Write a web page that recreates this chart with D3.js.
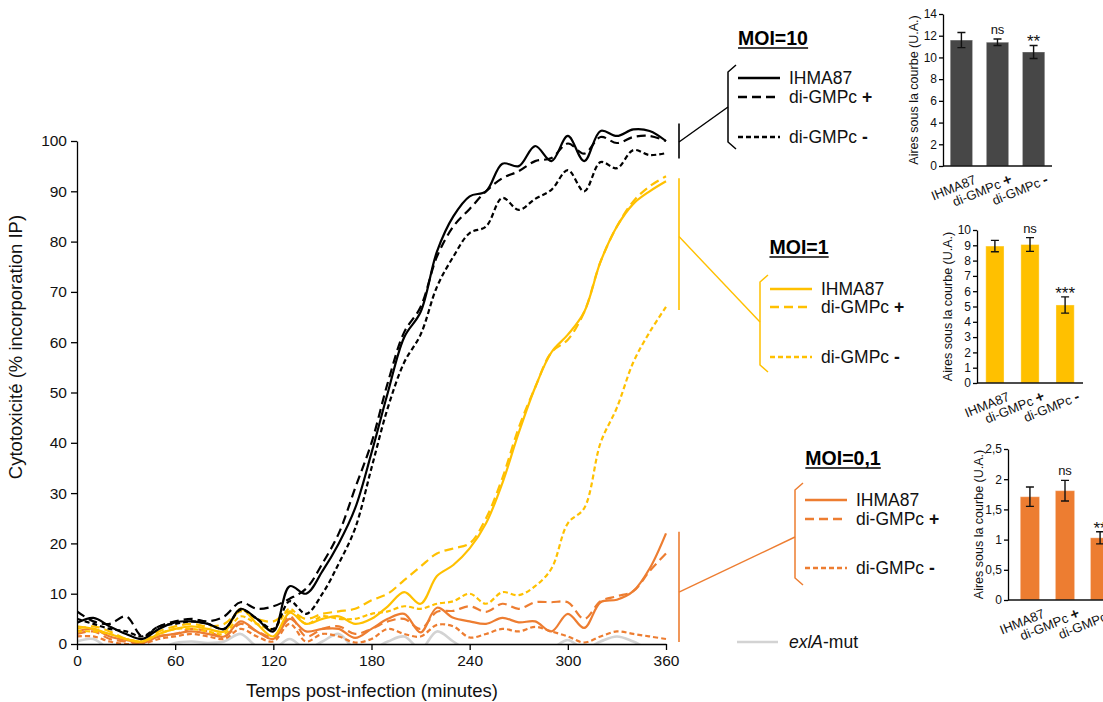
<!DOCTYPE html>
<html><head><meta charset="utf-8">
<script src="https://cdn.jsdelivr.net/npm/d3@7"></script>
<style>
body{margin:0;background:#fff}
svg{display:block;font-family:"Liberation Sans",Arial,sans-serif}
</style>
</head><body>
<svg id="c" width="1103" height="702"></svg>
<script>
// ---------- DATA ----------
const times = [0,10,20,30,40,50,60,70,80,90,100,110,120,130,140,150,160,170,180,190,200,210,220,230,240,250,260,270,280,290,300,310,320,330,340,350,360];

const moi10_wt  = [4.2,5.2,3.5,2.0,1.0,3.0,4.3,4.5,4.0,3.0,7.0,5.0,2.5,11.5,10.0,14.5,20,27,38,50,61,66,78,85,89,90,95.5,95,99,96,101,96,102,101,102.3,102,100];
const moi10_pos = [6.5,4.5,4.0,5.5,1.5,3.5,4.5,5.0,4.5,5.5,8.3,7.0,7.5,9.0,11,16,22,31,40,52,62,67,77,83,86.5,90,92.6,94,96,96.6,99.5,97.5,100.8,99.6,100.8,101,100];
const moi10_neg = [5.0,4.0,3.0,2.5,1.5,3.5,4.0,4.5,4.0,3.0,6.8,5.0,3.0,8.5,6.0,10,16,23,35,47,56,61.5,71,77,81.7,83,88.7,86.3,88.5,90.3,94.2,90,95.8,94.6,98.2,97.2,97.6];

const moi1_wt  = [3.5,3.0,2.0,1.0,0.5,2.0,3.0,3.5,3.0,2.5,7.0,4.0,1.5,6.2,4.0,5.0,5.5,4.0,5.0,7.5,10.3,8.0,13.5,15.7,19,24,32,42,51,58,61.5,66,76,83,87.5,90,92];
const moi1_pos = [3.0,3.5,2.5,1.0,0.5,2.5,3.5,4.0,3.5,4.0,6.5,5.0,4.5,6.5,5.0,6.0,6.5,7.0,8.7,10,12.7,15.4,18,19,20,25,33,43,51,58,60.5,66,76,83,88,91,93];
const moi1_neg = [2.5,2.5,2.0,1.0,0.5,2.0,3.0,3.0,2.5,2.0,5.5,4.0,3.0,7.0,4.0,5.5,5.0,5.0,6.0,6.5,7.5,7.0,8.0,8.5,10.0,8.0,10.3,9.7,11.5,15,24,27,40,47,56,62,67];

const moi01_wt  = [2.5,3.0,1.5,0.8,0.3,1.5,2.0,2.5,2.0,1.5,4.5,2.5,1.0,5.0,2.5,3.0,3.0,1.2,3.0,5.0,6.0,2.3,7.2,5.2,4.5,4.0,5.2,4.3,4.5,2.5,6.0,3.2,8.3,8.8,10.5,15,22];
const moi01_pos = [2.0,2.5,1.0,0.5,0.2,1.5,2.0,3.0,2.5,1.5,4.0,2.5,1.5,5.5,1.5,3.0,3.5,2.0,3.0,4.5,5.0,3.0,6.4,6.6,7.5,6.4,8.0,7.0,8.3,8.3,8.3,5.0,8.5,9.5,10.5,14.5,18];
const moi01_neg = [1.5,1.5,0.5,0.0,0.0,1.0,1.5,2.0,1.5,1.0,3.0,1.5,0.5,4.0,0.5,2.0,1.5,0.3,1.0,3.0,2.0,1.5,3.8,3.5,1.3,2.0,3.0,2.5,3.4,2.5,1.5,0.3,1.5,2.5,2.0,1.5,1.0];

const exla_mut = [0.5,1.0,-1,-1,-1,-1,0.2,0.5,0.2,0.5,2.0,-0.5,-1,1.0,-1,0.5,2.0,-1,-1,0.5,1.5,-1,2.5,0.5,-1.5,-2,-2,-2,-2,-1,0.8,-1,0.5,1.5,0.5,-1,-1];

const xTicks = [0,60,120,180,240,300,360];
const yTicks = [0,10,20,30,40,50,60,70,80,90,100];

const barCats = ["IHMA87","di-GMPc +","di-GMPc -"];
const auc10 = [11.6,11.4,10.5];
const auc10_err = [0.7,0.3,0.6];
const auc10_sig = ["","ns","**"];
const auc1 = [8.95,9.05,5.1];
const auc1_err = [0.37,0.45,0.53];
const auc1_sig = ["","ns","***"];
const auc01 = [1.71,1.81,1.03];
const auc01_err = [0.16,0.17,0.1];
const auc01_sig = ["","ns","**"];
const auc10_ticks = [0,2,4,6,8,10,12,14];
const auc1_ticks = [0,1,2,3,4,5,6,7,8,9,10];
const auc01_ticks = [0,0.5,1,1.5,2,2.5];

// ---------- STYLES ----------
const BLACK="#000", YEL="#FFC000", ORG="#ED7D31", GRAY="#D3D3D3", DARK="#474747";
const DASH_LONG="9,5", DASH_SHORT="5,3";
const FONT='"Liberation Sans",Arial,sans-serif';

const svg = d3.select("#c");
const x = d3.scaleLinear().domain([0,360]).range([77,666]);
const y = d3.scaleLinear().domain([0,100]).range([644,141]);

svg.append("defs").append("clipPath").attr("id","plot")
  .append("rect").attr("x",x(0)).attr("y",110).attr("width",x(360)-x(0)+2).attr("height",y(0)-110);

const series = [
  {v:exla_mut, c:GRAY, d:null, w:2.6},
  {v:moi01_neg, c:ORG, d:DASH_SHORT, w:2.2},
  {v:moi01_pos, c:ORG, d:DASH_LONG, w:2.2},
  {v:moi01_wt, c:ORG, d:null, w:2.2},
  {v:moi1_neg, c:YEL, d:DASH_SHORT, w:2.2},
  {v:moi1_pos, c:YEL, d:DASH_LONG, w:2.2},
  {v:moi1_wt, c:YEL, d:null, w:2.2},
  {v:moi10_neg, c:BLACK, d:DASH_SHORT, w:2.2},
  {v:moi10_pos, c:BLACK, d:DASH_LONG, w:2.2},
  {v:moi10_wt, c:BLACK, d:null, w:2.2},
];
const line = d3.line().x((d,i)=>x(times[i])).y(d=>y(d)).curve(d3.curveCatmullRom.alpha(0.5));
const gl = svg.append("g").attr("clip-path","url(#plot)");
series.forEach(s=>{
  gl.append("path").attr("d",line(s.v)).attr("fill","none").attr("stroke",s.c)
    .attr("stroke-width",s.w).attr("stroke-dasharray",s.d).attr("stroke-linejoin","round");
});

// axes
function styleAxis(g, fs){
  g.attr("font-family",null).attr("font-size",null);
  g.selectAll("path.domain").attr("stroke","#000").attr("stroke-width",1.3);
  g.selectAll(".tick line").attr("stroke","#000").attr("stroke-width",1.3);
  g.selectAll(".tick text").attr("fill","#111").style("font-size",fs+"px").style("font-family",FONT);
}
const gx = svg.append("g").attr("transform",`translate(0,${y(0)})`)
  .call(d3.axisBottom(x).tickValues(xTicks).tickSize(6).tickSizeOuter(0).tickPadding(5));
styleAxis(gx,15.5);
const gy = svg.append("g").attr("transform",`translate(${x(0)},0)`)
  .call(d3.axisLeft(y).tickValues(yTicks).tickSize(6).tickSizeOuter(0).tickPadding(4));
styleAxis(gy,15.5);

svg.append("text").attr("x",372).attr("y",697).attr("text-anchor","middle")
  .style("font-size","18.5px").attr("fill","#111").text("Temps post-infection (minutes)");
svg.append("text").attr("transform","translate(22,347) rotate(-90)").attr("text-anchor","middle")
  .style("font-size","18.5px").attr("fill","#111").text("Cytotoxicité (% incorporation IP)");

// ---------- LEGENDS ----------
function label(g, xx, yy, txt, fs){
  const t = g.append("text").attr("x",xx).attr("y",yy).attr("dy","0.35em").style("font-size",fs+"px").attr("fill","#111");
  if(txt.endsWith(" +")||txt.endsWith(" -")){
    t.append("tspan").text(txt.slice(0,-1));
    t.append("tspan").attr("font-weight","bold").text(txt.slice(-1));
  } else t.text(txt);
  return t;
}
function legend(cfg){
  const g = svg.append("g");
  g.append("line").attr("x1",679).attr("x2",679).attr("y1",y(cfg.range[0])).attr("y2",y(cfg.range[1]))
    .attr("stroke",cfg.color).attr("stroke-width",1.6);
  const bx = cfg.bx, bt = cfg.bt, bb = cfg.bb;
  g.append("line").attr("x1",679).attr("y1",y(cfg.mid)).attr("x2",bx).attr("y2",cfg.join)
    .attr("stroke",cfg.color).attr("stroke-width",1.4);
  g.append("path").attr("d",`M${bx+8},${bt-7}L${bx},${bt}L${bx},${bb}L${bx+8},${bb+7}`)
    .attr("fill","none").attr("stroke",cfg.color).attr("stroke-width",1.5);
  const dashes=[null,DASH_LONG,DASH_SHORT];
  cfg.rows.forEach((ry,i)=>{
    g.append("line").attr("x1",bx+10).attr("x2",bx+52).attr("y1",ry).attr("y2",ry)
      .attr("stroke",cfg.color).attr("stroke-width",2.4).attr("stroke-dasharray",dashes[i]);
    label(g,bx+61,ry,barCats[i],17.5);
  });
  const tt = g.append("text").attr("x",cfg.tx).attr("y",cfg.ty).attr("text-anchor","middle")
    .attr("font-weight","bold").style("font-size","19.5px").attr("fill","#000").text(cfg.title);
  const bb2 = tt.node().getBBox();
  g.append("line").attr("x1",bb2.x).attr("x2",bb2.x+bb2.width).attr("y1",cfg.ty+3).attr("y2",cfg.ty+3)
    .attr("stroke","#000").attr("stroke-width",1.6);
}
legend({color:BLACK,range:[96.5,103.5],mid:99.8,bx:728,bt:72,bb:142,join:107,rows:[78,97,137],title:"MOI=10",tx:773,ty:45});
legend({color:YEL,range:[66.4,92.6],mid:81,bx:760,bt:282,bb:365,join:322,rows:[289,307,357],title:"MOI=1",tx:799,ty:254});
legend({color:ORG,range:[0.4,22.3],mid:10.3,bx:795,bt:490,bb:578,join:537,rows:[500,519,568],title:"MOI=0,1",tx:843,ty:465});

// exlA-mut
svg.append("line").attr("x1",737).attr("x2",778).attr("y1",642).attr("y2",642).attr("stroke",GRAY).attr("stroke-width",2.6);
const ex = svg.append("text").attr("x",789).attr("y",642).attr("dy","0.35em").style("font-size","17.5px").attr("fill","#111");
ex.append("tspan").attr("font-style","italic").text("exlA");
ex.append("tspan").text("-mut");

// ---------- INSETS ----------
function inset(cfg){
  const g = svg.append("g");
  const xb = d3.scaleBand().domain(barCats).range(cfg.xr).paddingInner(cfg.pi).paddingOuter(cfg.po);
  const yb = d3.scaleLinear().domain([0,cfg.max]).range([cfg.y0,cfg.y1]);
  const bw = xb.bandwidth();
  g.selectAll("rect").data(cfg.vals).join("rect")
    .attr("x",(d,i)=>xb(barCats[i])).attr("y",d=>yb(d)).attr("width",bw).attr("height",d=>yb(0)-yb(d))
    .attr("fill",cfg.color).attr("stroke","#fff").attr("stroke-opacity",0.35).attr("stroke-width",1);
  cfg.vals.forEach((v,i)=>{
    const cx = xb(barCats[i])+bw/2, e=cfg.err[i];
    g.append("path").attr("d",`M${cx},${yb(v+e)}V${yb(v-e)}M${cx-4},${yb(v+e)}H${cx+4}M${cx-4},${yb(v-e)}H${cx+4}`)
      .attr("stroke","#111").attr("stroke-width",1.4).attr("fill","none");
    const s = cfg.sig[i];
    if(s){
      const isStar = s.startsWith("*");
      g.append("text").attr("x",cx).attr("y",yb(v+e)+(isStar?2:-5)).attr("text-anchor","middle")
        .style("font-size",(isStar?17:13)+"px").attr("fill","#111").text(s);
    }
    const t = g.append("text").attr("transform",`translate(${cx+12},${cfg.y0+8}) rotate(-22)`)
      .attr("text-anchor","end").attr("dy","0.75em").style("font-size","13px").attr("fill","#111");
    const c = barCats[i];
    if(c.endsWith(" +")||c.endsWith(" -")){
      t.append("tspan").text(c.slice(0,-1));
      t.append("tspan").attr("font-weight","bold").style("font-size","15px").text(c.slice(-1));
    } else t.text(c);
  });
  g.append("line").attr("x1",cfg.xr[0]).attr("x2",cfg.xr[1]).attr("y1",cfg.y0).attr("y2",cfg.y0)
    .attr("stroke","#111").attr("stroke-width",1.3);
  const ga = g.append("g").attr("transform",`translate(${cfg.xr[0]},0)`)
    .call(d3.axisLeft(yb).tickValues(cfg.ticks).tickFormat(cfg.fmt).tickSize(4).tickSizeOuter(0).tickPadding(2));
  styleAxis(ga,12);
  g.append("text").attr("transform",`translate(${cfg.xr[0]-29},${(cfg.y0+cfg.y1)/2}) rotate(-90)`)
    .attr("text-anchor","middle").attr("dy","0.35em").style("font-size","12.5px").attr("fill","#111")
    .text("Aires sous la courbe (U.A.)");
}
const fmtComma = d => String(d).replace(".",",");
inset({xr:[943,1052],pi:0.38,po:0.2,y0:166,y1:14,max:14,vals:auc10,err:auc10_err,sig:auc10_sig,color:DARK,ticks:auc10_ticks,fmt:fmtComma});
inset({xr:[977,1083],pi:0.48,po:0.25,y0:383,y1:230,max:10,vals:auc1,err:auc1_err,sig:auc1_sig,color:YEL,ticks:auc1_ticks,fmt:fmtComma});
inset({xr:[1008,1122],pi:0.45,po:0.35,y0:600,y1:449,max:2.5,vals:auc01,err:auc01_err,sig:auc01_sig,color:ORG,ticks:auc01_ticks,fmt:fmtComma});
</script>
</body></html>
